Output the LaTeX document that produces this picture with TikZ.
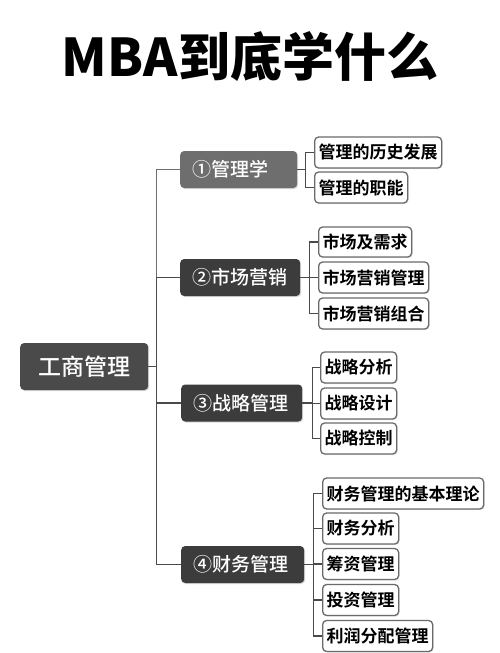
\documentclass[tikz,border=0pt]{standalone}
\usepackage{fontspec}
\setmainfont{Noto Sans CJK SC}[BoldFont={Noto Sans CJK SC Bold}]
\newfontfamily\cjkmed{Noto Sans CJK SC Medium}
\newfontfamily\cjkblack{Noto Sans CJK SC Black}
\usetikzlibrary{shadows}
\definecolor{rootgray}{HTML}{4A4A4A}
\definecolor{lightgray1}{HTML}{6E6E6E}
\definecolor{darkgray1}{HTML}{3C3C3C}
\definecolor{leafborder}{HTML}{6A6A6A}
\definecolor{linegray}{HTML}{4A4A4A}
\begin{document}
\begin{tikzpicture}[x=1pt,y=-1pt,
  rootbox/.style={draw=none, fill=rootgray, rounded corners=4pt, text=white, anchor=west,
    minimum width=128pt, minimum height=47pt, inner sep=0pt,
    font=\cjkmed\fontsize{23}{23}\selectfont,
    drop shadow={opacity=0.3, shadow xshift=1pt, shadow yshift=-1pt}},
  lvlbox/.style={draw=none, rounded corners=4pt, text=white, anchor=west,
    minimum height=37pt, inner xsep=12pt, inner ysep=0pt, align=left,
    font=\cjkmed\fontsize{19}{19}\selectfont,
    drop shadow={opacity=0.3, shadow xshift=1pt, shadow yshift=-1pt}},
  leafbox/.style={draw=leafborder, line width=1.3pt, fill=white, rounded corners=4pt,
    anchor=west, minimum height=31pt, inner xsep=4pt, inner ysep=0pt,
    font=\bfseries\fontsize{17}{17}\selectfont,
    drop shadow={opacity=0.2, shadow xshift=1pt, shadow yshift=-1pt}},
  conn/.style={draw=linegray, line width=1.8pt},
  connlight/.style={draw=lightgray1, line width=1.8pt},
  leafconn/.style={draw=linegray, line width=1.4pt}
]
\useasboundingbox[fill=white] (0,0) rectangle (500,653);

% title
\node[font=\cjkblack\fontsize{52}{52}\selectfont] (title) at (250,57) {MBA到底学什么};

% root
\node[rootbox] (root) at (20,366.5) {工商管理};

% level 1
\node[lvlbox, fill=lightgray1, text width=93pt] (L1) at (180,169.5) {①管理学};
\node[lvlbox, fill=darkgray1, text width=96pt] (L2) at (180,277.5) {②市场营销};
\node[lvlbox, fill=darkgray1, text width=97pt] (L3) at (181,403) {③战略管理};
\node[lvlbox, fill=darkgray1, text width=99pt] (L4) at (181,564.5) {④财务管理};

% leaves
\node[leafbox] (a1) at (314,152.5) {管理的历史发展};
\node[leafbox] (a2) at (314,187.5) {管理的职能};
\node[leafbox, minimum height=30pt] (b1) at (318,242) {市场及需求};
\node[leafbox] (b2) at (318,277.5) {市场营销管理};
\node[leafbox] (b3) at (318,313.5) {市场营销组合};
\node[leafbox] (c1) at (320,367.5) {战略分析};
\node[leafbox] (c2) at (320,403.5) {战略设计};
\node[leafbox] (c3) at (320,438.5) {战略控制};
\node[leafbox] (d1) at (322,493.5) {财务管理的基本理论};
\node[leafbox] (d2) at (322,528.5) {财务分析};
\node[leafbox] (d3) at (322,564) {筹资管理};
\node[leafbox] (d4) at (322,600) {投资管理};
\node[leafbox] (d5) at (322,636) {利润分配管理};

% trunk connectors
\draw[connlight] (root.east) -- ++(8,0) |- (L1.west);
\draw[conn] (root.east) -- ++(8,0) |- (L2.west);
\draw[conn] (root.east) -- ++(8,0) |- (L3.west);
\draw[conn] (root.east) -- ++(8,0) |- (L4.west);

% group connectors
\foreach \c in {a1,a2}{\draw[leafconn] (L1.east) -- ++(8,0) |- (\c.west);}
\foreach \c in {b1,b2,b3}{\draw[leafconn] (L2.east) -- ++(9,0) |- (\c.west);}
\foreach \c in {c1,c2,c3}{\draw[leafconn] (L3.east) -- ++(10,0) |- (\c.west);}
\foreach \c in {d1,d2,d3,d4,d5}{\draw[leafconn] (L4.east) -- ++(9,0) |- (\c.west);}
\end{tikzpicture}
\end{document}
